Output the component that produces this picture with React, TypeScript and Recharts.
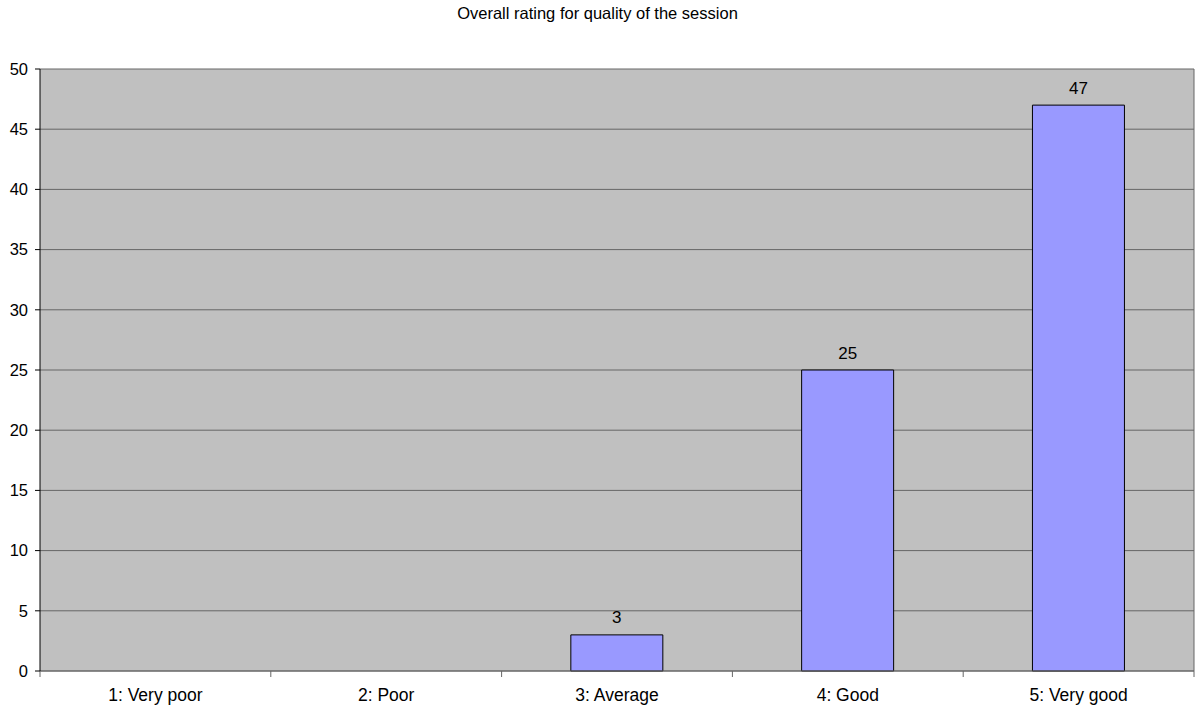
import React from "react";
import {
  BarChart,
  Bar,
  XAxis,
  YAxis,
  CartesianGrid,
  LabelList,
} from "recharts";

const categories = ["1: Very poor", "2: Poor", "3: Average", "4: Good", "5: Very good"];
const counts = [0, 0, 3, 25, 47];
const yTicks = [0, 5, 10, 15, 20, 25, 30, 35, 40, 45, 50];
const boundaryTicks = [0, 1, 2, 3, 4, 5];

const data = categories.map((name, i) => ({ name, count: counts[i] }));

const FONT = "Arial, 'Liberation Sans', sans-serif";
const GRID = "#666666";

export default function App() {
  return (
    <div style={{ position: "absolute", left: 0, top: 0, width: 1195, height: 707, background: "#fff", fontFamily: FONT }}>
      <div
        style={{
          position: "absolute",
          top: 3,
          left: 0,
          width: 1195,
          textAlign: "center",
          fontSize: 16.5,
          lineHeight: "20px",
          color: "#000",
        }}
      >
        Overall rating for quality of the session
      </div>
      <BarChart
        width={1195}
        height={707}
        data={data}
        margin={{ top: 69, right: 0, bottom: 0, left: 0 }}
        barCategoryGap="30%"
      >
        <CartesianGrid vertical={false} stroke={GRID} strokeWidth={1} fill="#C0C0C0" fillOpacity={1} />
        {/* category boundary tick marks, sitting right on the plot's bottom edge */}
        <XAxis
          xAxisId="bounds"
          type="number"
          dataKey={() => 0}
          domain={[0, categories.length]}
          allowDataOverflow
          ticks={boundaryTicks}
          interval={0}
          height={1}
          axisLine={{ stroke: GRID }}
          tickLine={{ stroke: GRID }}
          tickSize={6}
          tickFormatter={() => ""}
        />
        <XAxis
          xAxisId="cat"
          dataKey="name"
          height={35}
          axisLine={false}
          tickLine={false}
          tickSize={6}
          tickMargin={11}
          tick={{ fontSize: 17.5, fill: "#000", fontFamily: FONT }}
          interval={0}
        />
        <YAxis
          width={40}
          domain={[0, 50]}
          ticks={yTicks}
          interval={0}
          axisLine={{ stroke: "#000" }}
          tickLine={{ stroke: "#000" }}
          tickSize={5}
          tickMargin={7}
          tick={{ fontSize: 16.5, fill: "#000", fontFamily: FONT }}
        />
        {/* right border of the plot area */}
        <YAxis
          yAxisId="border"
          orientation="right"
          width={1}
          domain={[0, 50]}
          tick={false}
          tickLine={false}
          axisLine={{ stroke: GRID }}
        />
        <Bar xAxisId="cat" dataKey="count" fill="#9999FF" stroke="#000" strokeWidth={1} isAnimationActive={false}>
          <LabelList
            dataKey="count"
            position="top"
            offset={11.5}
            fill="#000"
            fontSize={17}
            fontFamily={FONT}
            formatter={(v: number) => (v > 0 ? v : "")}
          />
        </Bar>
      </BarChart>
    </div>
  );
}
